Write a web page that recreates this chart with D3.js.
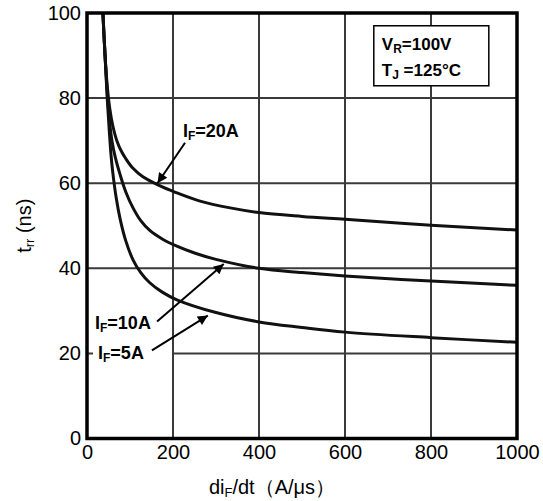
<!DOCTYPE html>
<html>
<head>
<meta charset="utf-8">
<script src="https://cdn.jsdelivr.net/npm/d3@7"></script>
<style>
  body { margin: 0; background: #fff; }
  svg { font-family: "Liberation Sans", Arial, sans-serif; }
</style>
</head>
<body>
<svg id="drawing_region"></svg>
<script>
// tick labels
const xTicks = [0, 200, 400, 600, 800, 1000];
const yTicks = [0, 20, 40, 60, 80, 100];

// curves: [di/dt (A/us), trr (ns)]
const curve5A = [[37, 100], [42, 90], [47, 80], [52, 72], [56, 66.5], [60, 62.5], [68, 56.5],
    [77, 51.6], [90, 46.5], [107, 42], [125, 39], [146, 36.6], [175, 34.4], [209, 32.6],
    [300, 29.6], [400, 27.4], [500, 26.1], [600, 25], [800, 23.7], [1000, 22.6]];
const curve10A = [[37, 100], [42, 90], [48, 80], [53, 74], [58, 70], [66, 66], [77, 62],
    [90, 58], [107, 54.2], [125, 51.2], [146, 48.9], [175, 46.9], [209, 45.2], [250, 43.6],
    [300, 42.1], [400, 40], [500, 39], [600, 38.2], [800, 37], [1000, 36]];
const curve20A = [[37, 100], [42, 90], [47, 83], [53, 77.5], [60, 73.5], [70, 69.8], [80, 67.5],
    [90, 65.8], [107, 63.5], [130, 61.5], [165, 59.6], [207, 57.8], [263, 55.8], [333, 54.2],
    [400, 53.1], [500, 52.2], [600, 51.5], [800, 50.1], [1000, 49]];

const W = 543, H = 501;
const margin = { top: 13, right: 26, bottom: 62.5, left: 87 };
const innerW = W - margin.left - margin.right;
const innerH = H - margin.top - margin.bottom;

const svg = d3.select('#drawing_region')
    .attr('width', W)
    .attr('height', H);

const chart = svg.append('g')
    .attr('transform', `translate(${margin.left}, ${margin.top})`);

const xscale = d3.scaleLinear().domain([0, 1000]).range([0, innerW]);
const yscale = d3.scaleLinear().domain([0, 100]).range([innerH, 0]);

// grid
chart.selectAll('.vgrid')
    .data(xTicks.slice(1, -1))
    .join('line')
    .attr('x1', d => xscale(d)).attr('x2', d => xscale(d))
    .attr('y1', 0).attr('y2', innerH)
    .attr('stroke', '#3a3a3a').attr('stroke-width', 2);

chart.selectAll('.hgrid')
    .data(yTicks.slice(1, -1))
    .join('line')
    .attr('x1', 0).attr('x2', innerW)
    .attr('y1', d => yscale(d)).attr('y2', d => yscale(d))
    .attr('stroke', '#3a3a3a').attr('stroke-width', 2);

// axes (labels only)
const xaxis = d3.axisBottom(xscale).tickValues(xTicks).tickFormat(d3.format('d'))
    .tickSize(0).tickPadding(6);
const yaxis = d3.axisLeft(yscale).tickValues(yTicks).tickSize(0).tickPadding(6);

chart.append('g')
    .attr('transform', `translate(0, ${innerH})`)
    .call(xaxis)
    .call(g => g.select('.domain').remove())
    .selectAll('text')
    .attr('font-size', 20).attr('fill', '#000')
    .attr('font-family', '"Liberation Sans", Arial, sans-serif');

chart.append('g')
    .call(yaxis)
    .call(g => g.select('.domain').remove())
    .selectAll('text')
    .attr('font-size', 20).attr('fill', '#000')
    .attr('font-family', '"Liberation Sans", Arial, sans-serif');

// curves
const line = d3.line()
    .x(d => xscale(d[0]))
    .y(d => yscale(d[1]))
    .curve(d3.curveCatmullRom.alpha(0.5));

// arrow marker
svg.append('defs').append('marker')
    .attr('id', 'arrow')
    .attr('viewBox', '0 0 10 10')
    .attr('refX', 10).attr('refY', 5)
    .attr('markerWidth', 8).attr('markerHeight', 5)
    .attr('markerUnits', 'strokeWidth')
    .attr('orient', 'auto')
    .append('path')
    .attr('d', 'M0,0L10,5L0,10z')
    .attr('fill', '#000');

// curve labels with arrows
function curveLabel(text, tx, ty, from, to, knockW) {
    if (knockW) {
        chart.append('rect')
            .attr('x', xscale(tx) - 5).attr('y', yscale(ty) - 16)
            .attr('width', knockW).attr('height', 19)
            .attr('fill', '#fff');
    }
    const t = chart.append('text')
        .attr('x', xscale(tx)).attr('y', yscale(ty))
        .attr('font-size', 18).attr('font-weight', 'bold');
    t.append('tspan').text('I');
    t.append('tspan').text('F').attr('font-size', 12).attr('dy', 3);
    t.append('tspan').text(text).attr('dy', -3);

    chart.append('line')
        .attr('x1', xscale(from[0])).attr('y1', yscale(from[1]))
        .attr('x2', xscale(to[0])).attr('y2', yscale(to[1]))
        .attr('stroke', '#000').attr('stroke-width', 2)
        .attr('marker-end', 'url(#arrow)');
}

curveLabel('=20A', 223, 70.9, [228, 69.5], [164, 60], 0);
curveLabel('=10A', 18.6, 25.8, [163, 27.5], [318, 41], 0);
curveLabel('=5A', 25.6, 18.8, [151, 20.7], [281, 28.9], 79);

chart.selectAll('.curve')
    .data([curve5A, curve10A, curve20A])
    .join('path')
    .attr('d', line)
    .attr('fill', 'none')
    .attr('stroke', '#111')
    .attr('stroke-width', 3);

// frame
chart.append('rect')
    .attr('width', innerW).attr('height', innerH)
    .attr('fill', 'none')
    .attr('stroke', '#000').attr('stroke-width', 3.5);

// condition box
const box = chart.append('g')
    .attr('transform', `translate(${xscale(667)}, ${yscale(97)})`);
box.append('rect')
    .attr('width', 115).attr('height', 60)
    .attr('fill', '#fff')
    .attr('stroke', '#000').attr('stroke-width', 1.5);
const l1 = box.append('text').attr('x', 8).attr('y', 24)
    .attr('font-size', 17).attr('font-weight', 'bold');
l1.append('tspan').text('V');
l1.append('tspan').text('R').attr('font-size', 12).attr('dy', 3);
l1.append('tspan').text('=100V').attr('dy', -3);
const l2 = box.append('text').attr('x', 8).attr('y', 50)
    .attr('font-size', 17).attr('font-weight', 'bold');
l2.append('tspan').text('T');
l2.append('tspan').text('J').attr('font-size', 12).attr('dy', 3);
l2.append('tspan').text(' =125°C').attr('dy', -3);

// axis titles
const xt = svg.append('text')
    .attr('x', 272).attr('y', 494)
    .attr('text-anchor', 'middle')
    .attr('font-size', 20);
xt.append('tspan').text('di');
xt.append('tspan').text('F').attr('font-size', 13).attr('dy', 3);
xt.append('tspan').text('/dt（A/μs）').attr('dy', -3);

const yt = svg.append('text')
    .attr('transform', `translate(31, ${margin.top + innerH / 2}) rotate(-90)`)
    .attr('text-anchor', 'middle')
    .attr('font-size', 20);
yt.append('tspan').text('t');
yt.append('tspan').text('rr').attr('font-size', 13).attr('dy', 3);
yt.append('tspan').text(' (ns)').attr('dy', -3);
</script>
</body>
</html>
